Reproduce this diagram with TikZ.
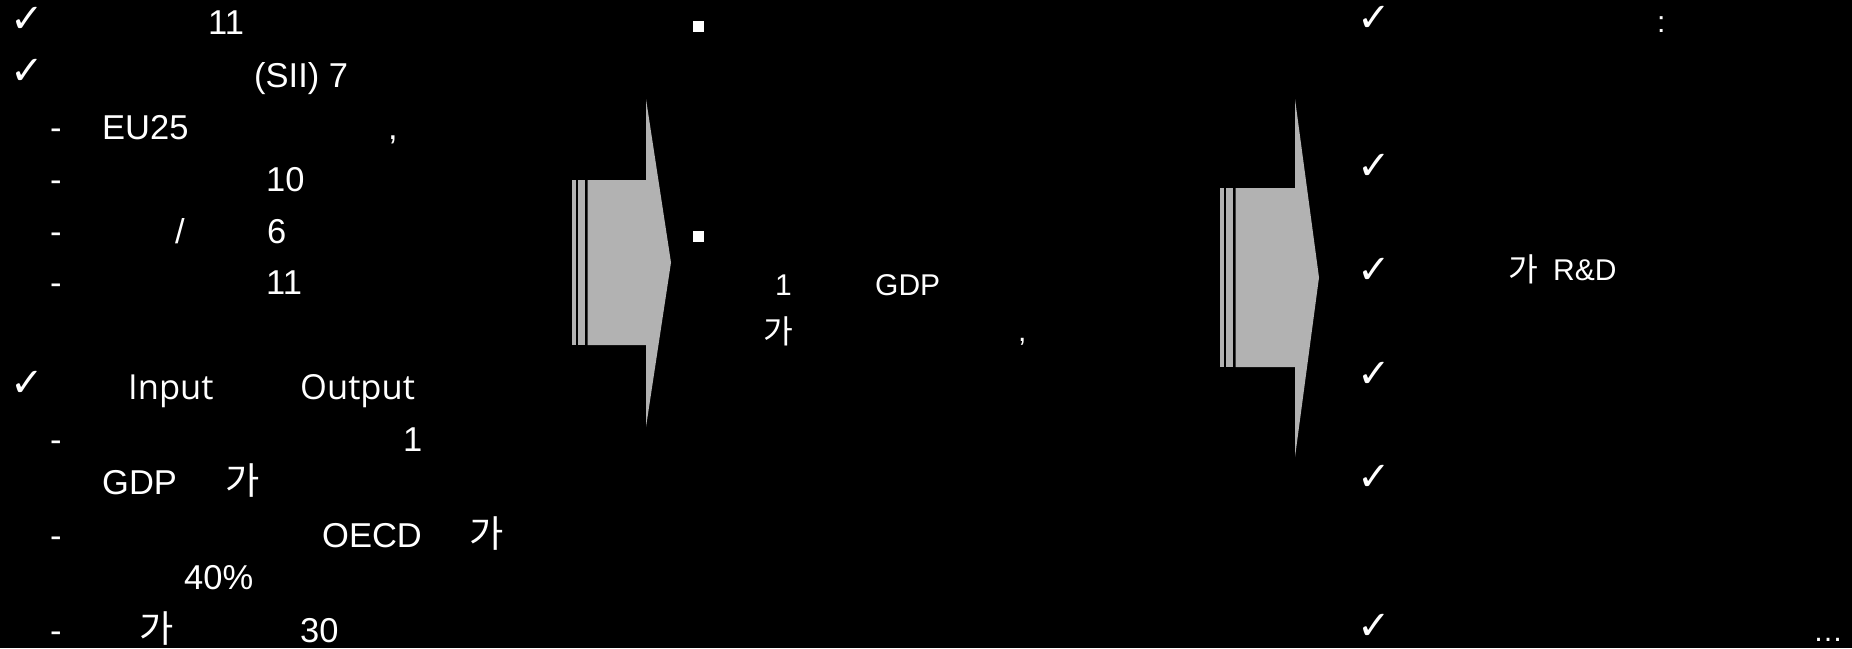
\documentclass[tikz,border=0pt]{standalone}
\usepackage{fontspec}
\setmainfont{Liberation Sans}
\newfontfamily\krfont[Scale=1.08]{Noto Sans CJK KR}
\newfontfamily\symfont{DejaVu Sans}
\newfontfamily\uifont{Open Sans}
\definecolor{arrowgray}{HTML}{B2B2B2}

\begin{document}
\begin{tikzpicture}[x=1pt,y=1pt,
  bigtxt/.style={anchor=base west,inner sep=0pt,text=white,font=\fontsize{34.5}{40}\selectfont},
  smalltxt/.style={anchor=base west,inner sep=0pt,text=white,font=\fontsize{30}{36}\selectfont},
  tick/.style={anchor=south west,inner sep=0pt,text=white,font=\symfont\fontsize{40}{44}\selectfont},
  sqbullet/.style={fill=white,minimum size=11pt,inner sep=0pt}]
  \fill[black] (0,0) rectangle (1852,-648);
  \useasboundingbox (0,0) rectangle (1852,-648);

  % Check marks, left and right columns.
  \foreach \x/\y [count=\i] in {10/33,10/85,10/397,1357/32,1357/180,1357/284,1357/388,1357/491,1357/640}
    \node[tick] (c\i) at (\x,-\y) {✓};

  % Left column, only the printed fragments.
  \foreach \x/\y/\t [count=\i] in {208/34/11, 254/87/{(SII) 7},
    50/139/-, 102/139/EU25, 388/139/{,},
    50/191/-, 266/191/10,
    50/243/-, 175/243/{/}, 267/243/6,
    50/294/-, 266/294/11,
    128/399/{\uifont Input}, 300/399/{\uifont Output},
    50/451/-, 403/451/1,
    102/494/GDP, 225/494/{\krfont 가},
    50/547/-, 322/547/OECD, 469/547/{\krfont 가},
    184/589/{40\%},
    50/642/-, 139/642/{\krfont 가}, 300/642/30}
    \node[bigtxt] (l\i) at (\x,-\y) {\t};

  % Middle and right columns.
  \node[sqbullet] (b1) at (698.5,-26.5) {};
  \node[sqbullet] (b2) at (698.5,-236) {};
  \foreach \x/\y/\t [count=\i] in {775/295/1, 875/295/GDP, 763/343/{\krfont 가}, 1018/341/{,},
    1657/32/{:}, 1508/281/{\krfont 가}, 1553/280/{R\&D}, 1813/641/{…}}
    \node[smalltxt] (m\i) at (\x,-\y) {\t};

  % Striped block arrows between the columns.
  \newcommand{\grayarrow}[7]{%
    \fill[arrowgray] (#1,-#2) rectangle (#1+3.7,-#3);
    \fill[arrowgray] (#1+5.5,-#2) rectangle (#1+13,-#3);
    \fill[arrowgray] (#1+15.5,-#2) -- (#4,-#2) -- (#4,-#6) -- (#5,{-(#2+#3)/2})
      -- (#4,-#7) -- (#4,-#3) -- (#1+15.5,-#3) -- cycle;
  }
  \grayarrow{572}{180}{345}{646}{671}{99}{427}
  \grayarrow{1220}{188}{367}{1295}{1319}{99}{457}
\end{tikzpicture}
\end{document}
